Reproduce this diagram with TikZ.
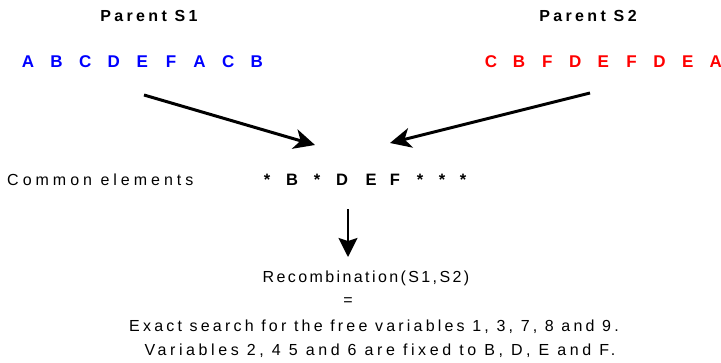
\documentclass[tikz,border=0pt]{standalone}
\usepackage{fontspec}
\setmainfont{Liberation Sans}
\newfontfamily\widefont[LetterSpace=15]{Liberation Sans}
\newfontfamily\widerfont[LetterSpace=20]{Liberation Sans}
\newfontfamily\fixedfont[LetterSpace=22.5]{Liberation Sans}
\newfontfamily\widestfont[LetterSpace=25]{Liberation Sans}
\newfontfamily\titlefont[LetterSpace=21]{Liberation Sans}
\usetikzlibrary{arrows.meta}

\begin{document}
\begin{tikzpicture}[x=1pt, y=-1pt,
  plaintext/.style={font=\widefont\fontsize{16}{18}\selectfont, inner sep=0pt},
  linetext/.style={font=\widerfont\fontsize{16}{18}\selectfont, inner sep=0pt},
  parenttitle/.style={font=\titlefont\bfseries\fontsize{16}{18}\selectfont, inner sep=0pt},
  gene/.style={font=\bfseries\fontsize{17}{19}\selectfont, inner sep=0pt},
  common/.style={font=\bfseries\fontsize{16.5}{18}\selectfont, inner sep=0pt},
  bigarrow/.style={-{Stealth[length=21pt,width=20pt,inset=6pt]}, line width=3pt},
  downarrow/.style={-{Stealth[length=19pt,width=19pt,inset=3pt]}, line width=2pt}]
\useasboundingbox (0,0) rectangle (721,362);
%%%%% Parents %%%%%
\node[parenttitle] (p1) at (149,16) {Parent S1};
\node[parenttitle] (p2) at (588,16) {Parent S2};
\foreach \l [count=\i] in {A,B,C,D,E,F,A,C,B}{
\node[gene, blue] (s1\i) at ({28+28.6*(\i-1)},62) {\l};
}
\foreach \l [count=\i] in {C,B,F,D,E,F,D,E,A}{
\node[gene, red] (s2\i) at ({491+28.1*(\i-1)},62) {\l};
}
%%%%% Common elements %%%%%
\node[plaintext, font=\widestfont\fontsize{16}{18}\selectfont, anchor=west] (comlabel) at (7,180) {Common elements};
\foreach \x/\c [count=\i] in {267/*,292/B,317/*,342/D,371/E,395/F,420/*,442/*,463/*}{
\node[common] (c\i) at (\x,180) {\c};
}
\coordinate (a1s) at (144,95);
\coordinate (a1e) at (315,145);
\coordinate (a2s) at (590,93);
\coordinate (a2e) at (390,143);
\draw[bigarrow] (a1s)--(a1e);
\draw[bigarrow] (a2s)--(a2e);
%%%%% Recombination %%%%%
\coordinate (a3s) at (348,209);
\coordinate (a3e) at (348,257);
\draw[downarrow] (a3s)--(a3e);
\node[plaintext] (recomb) at (366,278) {Recombination(S1,S2)};
\node[plaintext] (eq) at (348,302) {=};
\node[linetext] (exact) at (374,327) {Exact search for the free variables 1, 3, 7, 8 and 9.};
\node[linetext, font=\fixedfont\fontsize{16}{18}\selectfont] (fixed) at (380,351) {Variables 2, 4 5 and 6 are fixed to B, D, E and F.};
\end{tikzpicture}
\end{document}
